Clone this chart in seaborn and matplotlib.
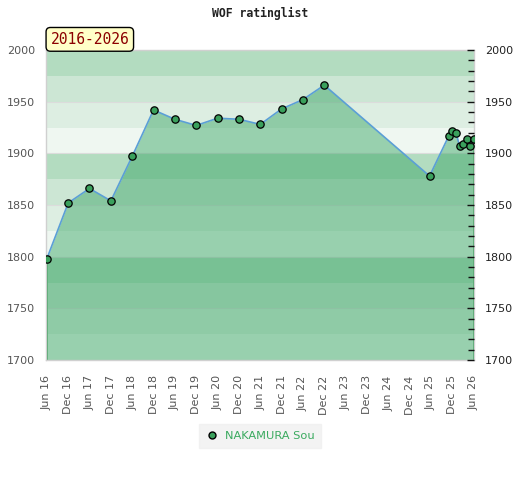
import pandas as pd
import seaborn as sns
import matplotlib
matplotlib.use("Agg")
import matplotlib.pyplot as plt
import matplotlib.dates as mdates
from matplotlib.ticker import MultipleLocator

# rating history
dates = ["2016-06-01", "2016-12-01", "2017-06-01", "2017-12-01", "2018-06-01",
         "2018-12-01", "2019-06-01", "2019-12-01", "2020-06-01", "2020-12-01",
         "2021-06-01", "2021-12-01", "2022-06-01", "2022-12-01", "2025-05-20",
         "2025-11-01", "2025-12-01", "2026-01-01", "2026-02-01", "2026-03-01",
         "2026-04-01", "2026-05-01", "2026-06-01"]
ratings = [1798, 1852, 1866, 1854, 1897, 1942, 1933, 1927, 1934, 1933,
           1928, 1943, 1952, 1966, 1878, 1917, 1922, 1920, 1907, 1909,
           1914, 1907, 1914]
player = "NAKAMURA Sou"
period = "2016-2026"
title = "WOF ratinglist"

# background band colours (cycle of four, 25 points each, from top)
band_colors = ["#b3dcc0", "#cce6d4", "#ddeee2", "#eff7f1"]

df = pd.DataFrame({"date": pd.to_datetime(dates), "rating": ratings})

sns.set_style("white")
fig = plt.figure(figsize=(5.2, 4.8), dpi=100)
ax = fig.add_axes([0.0885, 0.25, 0.823, 0.6458])

ymin, ymax = 1700, 2000
for i, top in enumerate(range(ymax, ymin, -25)):
    ax.axhspan(top - 25, top, color=band_colors[i % 4], lw=0, zorder=0)
for y in range(ymin, ymax + 1, 50):
    ax.axhline(y, color="#dcdcdc", lw=0.8, zorder=0.5)

ax.fill_between(df["date"], df["rating"], ymin, color="#37a464", alpha=0.47,
                lw=0, zorder=1)
ax.vlines([df["date"].iloc[0], df["date"].iloc[-1]], ymin,
          [df["rating"].iloc[0], df["rating"].iloc[-1]],
          color="#3a9e5a", lw=1.2, zorder=1.5)

sns.lineplot(data=df, x="date", y="rating", ax=ax, color="#5b9fd6", lw=1.2,
             zorder=2, label=player)
ax.scatter(df["date"], df["rating"], s=28, color="#3aa05c", edgecolor="black",
           linewidth=0.9, zorder=3)

ax.set_xlim(pd.Timestamp("2016-05-25"), pd.Timestamp("2026-06-04"))
ax.set_ylim(ymin, ymax)
ax.set_xlabel("")
ax.set_ylabel("")
ax.xaxis.set_major_locator(mdates.MonthLocator(bymonth=[6, 12]))
ax.xaxis.set_major_formatter(mdates.DateFormatter("%b %y"))
ax.yaxis.set_major_locator(MultipleLocator(50))
ax.tick_params(axis="x", length=0, pad=11, labelsize=8, labelcolor="#555555",
               rotation=90)
ax.tick_params(axis="y", length=0, pad=8, labelsize=8, labelcolor="#555555")
for s in ax.spines.values():
    s.set_color("#d0d0d0")
    s.set_linewidth(1)

ax2 = ax.twinx()
ax2.set_ylim(ymin, ymax)
ax2.yaxis.set_major_locator(MultipleLocator(50))
ax2.yaxis.set_minor_locator(MultipleLocator(10))
ax2.tick_params(axis="y", which="major", direction="in", length=5, width=1,
                pad=8, labelsize=8, labelcolor="#222222", color="#111111")
ax2.tick_params(axis="y", which="minor", direction="in", length=4, width=1,
                color="#111111")
for s in ax2.spines.values():
    s.set_visible(False)

ax.get_legend().remove()
fig.text(0.5, 0.973, title, ha="center", va="center", fontsize=8.3,
         family="DejaVu Sans Mono", fontweight="bold", color="#222222")
fig.text(0.097, 0.918, period, ha="left", va="center", fontsize=10.5,
         family="DejaVu Sans Mono", color="#8b0000",
         bbox=dict(boxstyle="round,pad=0.3,rounding_size=0.3", fc="#ffffc8",
                   ec="black", lw=1))

handle = plt.Line2D([], [], ls="", marker="o", ms=5, mfc="#3aa05c", mec="black")
leg = fig.legend([handle], [player], loc="center", bbox_to_anchor=(0.5, 0.092),
                 frameon=True, fontsize=8.2, handletextpad=0.5,
                 handlelength=1.2, borderpad=0.3)
leg.get_frame().set_facecolor("#f0f0f0")
leg.get_frame().set_edgecolor("#f0f0f0")
leg.get_frame().set_boxstyle("square")
for t in leg.get_texts():
    t.set_color("#3aaa5f")

fig.savefig("out.png", dpi=100)
